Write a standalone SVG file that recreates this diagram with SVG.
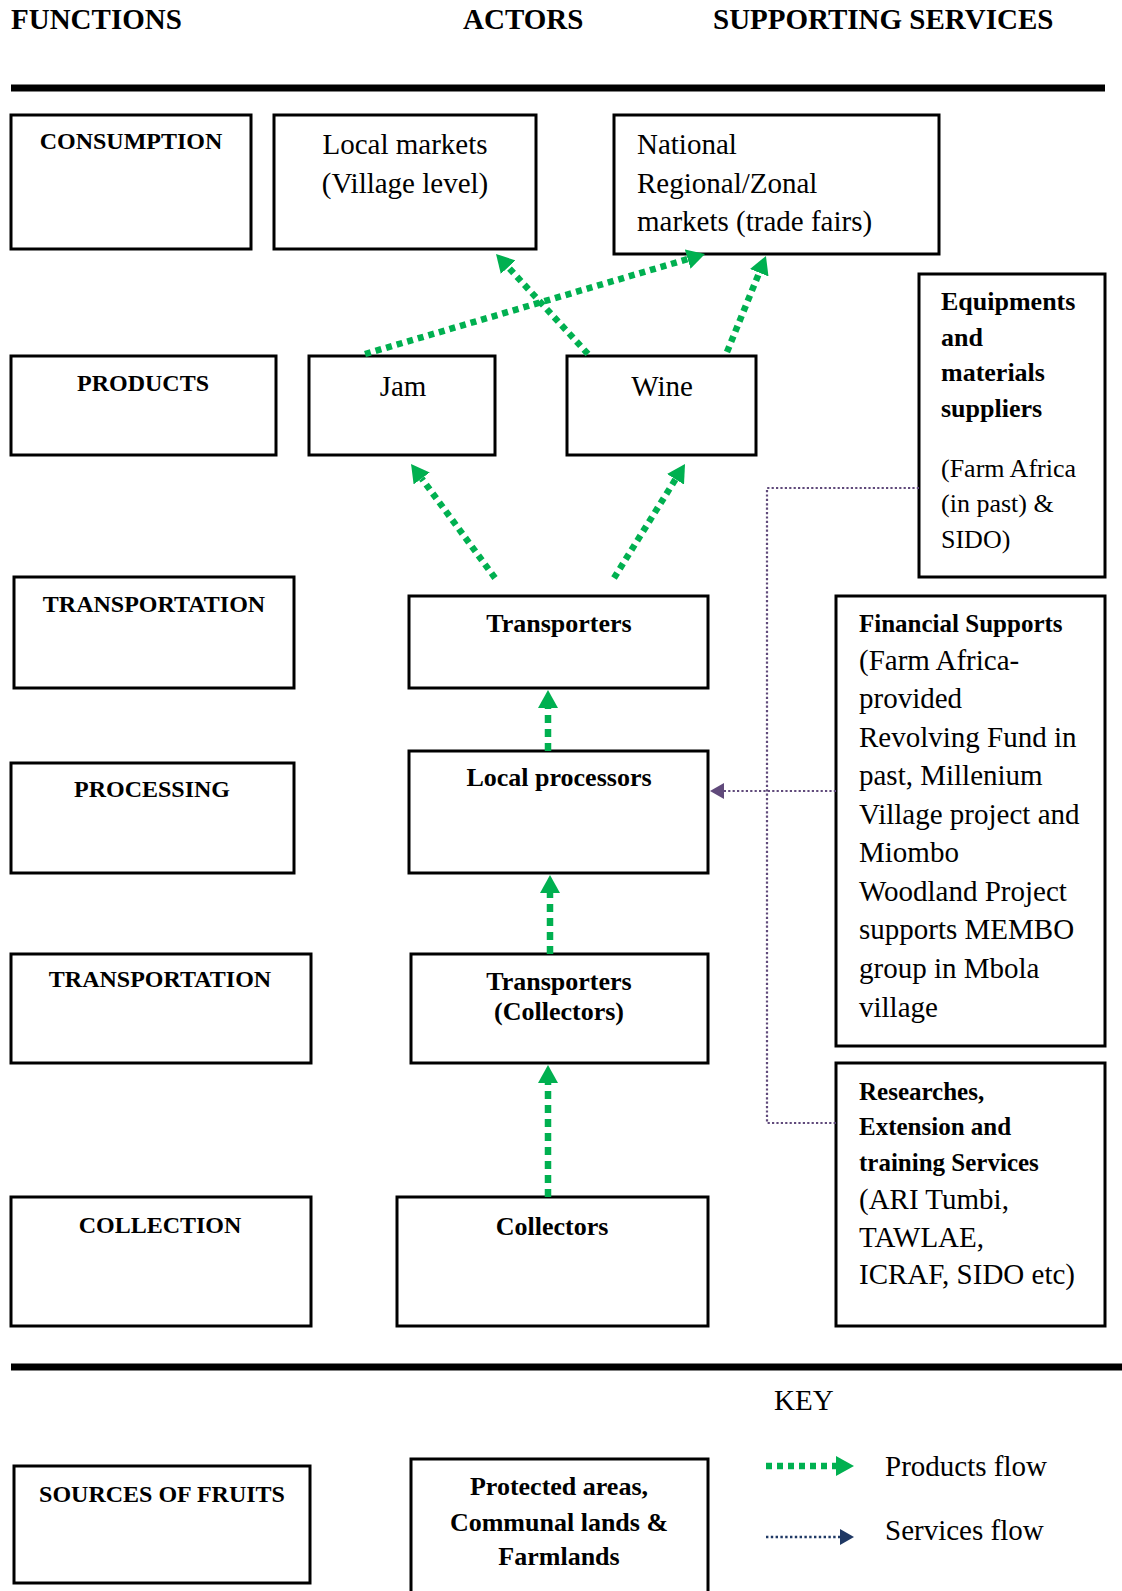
<svg xmlns="http://www.w3.org/2000/svg" width="1122" height="1591" viewBox="0 0 1122 1591">
<style>
.box{fill:#fff;stroke:#000;stroke-width:3}
.hd{font-family:"Liberation Serif","Times New Roman",serif;font-weight:bold;font-size:29px;fill:#000}
.fn{font-family:"Liberation Serif","Times New Roman",serif;font-weight:bold;font-size:24px;fill:#000;text-anchor:middle}
.ab{font-family:"Liberation Serif","Times New Roman",serif;font-weight:bold;font-size:26px;fill:#000;text-anchor:middle}
.rg{font-family:"Liberation Serif","Times New Roman",serif;font-size:29px;fill:#000}
.rgc{font-family:"Liberation Serif","Times New Roman",serif;font-size:29px;fill:#000;text-anchor:middle}
.sb{font-family:"Liberation Serif","Times New Roman",serif;font-weight:bold;font-size:25px;fill:#000}
.eb{font-family:"Liberation Serif","Times New Roman",serif;font-weight:bold;font-size:26px;fill:#000}
.er{font-family:"Liberation Serif","Times New Roman",serif;font-size:26px;fill:#000}
.pf{fill:none;stroke:#00b050;stroke-width:6.5;stroke-dasharray:6 5}
.pv{fill:none;stroke:#00b050;stroke-width:6.5;stroke-dasharray:8 6}
.sf{fill:none;stroke:#604a7b;stroke-width:2.2;stroke-dasharray:2.2 2.2}
.kf{fill:none;stroke:#1f3864;stroke-width:2.4;stroke-dasharray:2.4 2.4}
.rule{stroke:#000;stroke-width:7}
</style>
<defs>
<marker id="ga" markerUnits="userSpaceOnUse" markerWidth="18" markerHeight="20" refX="0" refY="10" orient="auto"><path d="M0,0 L18,10 L0,20 z" fill="#00b050"/></marker>
<marker id="pa" markerUnits="userSpaceOnUse" markerWidth="14" markerHeight="16" refX="0" refY="8" orient="auto"><path d="M0,0 L14,8 L0,16 z" fill="#604a7b"/></marker>
<marker id="na" markerUnits="userSpaceOnUse" markerWidth="14" markerHeight="16" refX="0" refY="8" orient="auto"><path d="M0,0 L14,8 L0,16 z" fill="#1f3864"/></marker>
</defs>
<rect width="1122" height="1591" fill="#fff"/>

<g id="headers">
<text class="hd" x="11" y="29">FUNCTIONS</text>
<text class="hd" x="463" y="29">ACTORS</text>
<text class="hd" x="713" y="29">SUPPORTING SERVICES</text>
<line class="rule" x1="11" y1="88" x2="1105" y2="88"/>
<line class="rule" x1="11" y1="1367" x2="1122" y2="1367"/>
</g>

<g id="consumption"><rect class="box" x="11" y="115" width="240" height="134"/><text class="fn" x="131" y="149">CONSUMPTION</text></g>
<g id="local-markets"><rect class="box" x="274" y="115" width="262" height="134"/><text class="rgc" x="405" y="154">Local markets</text><text class="rgc" x="405" y="193">(Village level)</text></g>
<g id="national-markets"><rect class="box" x="614" y="115" width="325" height="139"/><text class="rg" x="637" y="154">National</text><text class="rg" x="637" y="193">Regional/Zonal</text><text class="rg" x="637" y="231">markets (trade fairs)</text></g>

<g id="products"><rect class="box" x="11" y="356" width="265" height="99"/><text class="fn" x="143" y="391">PRODUCTS</text></g>
<g id="jam"><rect class="box" x="309" y="356" width="186" height="99"/><text class="rgc" x="403" y="396">Jam</text></g>
<g id="wine"><rect class="box" x="567" y="356" width="189" height="99"/><text class="rgc" x="662" y="396">Wine</text></g>

<g id="equipments"><rect class="box" x="919" y="274" width="186" height="303"/>
<text class="eb" x="941" y="310">Equipments</text><text class="eb" x="941" y="346">and</text><text class="eb" x="941" y="381">materials</text><text class="eb" x="941" y="417">suppliers</text>
<text class="er" x="941" y="477">(Farm Africa</text><text class="er" x="941" y="512">(in past) &amp;</text><text class="er" x="941" y="548">SIDO)</text></g>

<g id="transportation-1"><rect class="box" x="14" y="577" width="280" height="111"/><text class="fn" x="154" y="612">TRANSPORTATION</text></g>
<g id="transporters"><rect class="box" x="409" y="596" width="299" height="92"/><text class="ab" x="559" y="632">Transporters</text></g>

<g id="financial"><rect class="box" x="836" y="596" width="269" height="450"/>
<text class="sb" x="859" y="632">Financial Supports</text>
<text class="rg" x="859" y="670">(Farm Africa-</text>
<text class="rg" x="859" y="708">provided</text>
<text class="rg" x="859" y="747">Revolving Fund in</text>
<text class="rg" x="859" y="785">past, Millenium</text>
<text class="rg" x="859" y="824">Village project and</text>
<text class="rg" x="859" y="862">Miombo</text>
<text class="rg" x="859" y="901">Woodland Project</text>
<text class="rg" x="859" y="939">supports MEMBO</text>
<text class="rg" x="859" y="978">group in Mbola</text>
<text class="rg" x="859" y="1017">village</text></g>

<g id="processing"><rect class="box" x="11" y="763" width="283" height="110"/><text class="fn" x="152" y="797">PROCESSING</text></g>
<g id="local-processors"><rect class="box" x="409" y="751" width="299" height="122"/><text class="ab" x="559" y="786">Local processors</text></g>

<g id="transportation-2"><rect class="box" x="11" y="954" width="300" height="109"/><text class="fn" x="160" y="987">TRANSPORTATION</text></g>
<g id="transporters-collectors"><rect class="box" x="411" y="954" width="297" height="109"/><text class="ab" x="559" y="990">Transporters</text><text class="ab" x="559" y="1020">(Collectors)</text></g>

<g id="researches"><rect class="box" x="836" y="1063" width="269" height="263"/>
<text class="sb" x="859" y="1100">Researches,</text>
<text class="sb" x="859" y="1135">Extension and</text>
<text class="sb" x="859" y="1171">training Services</text>
<text class="rg" x="859" y="1209">(ARI Tumbi,</text>
<text class="rg" x="859" y="1247">TAWLAE,</text>
<text class="rg" x="859" y="1284">ICRAF, SIDO etc)</text></g>

<g id="collection"><rect class="box" x="11" y="1197" width="300" height="129"/><text class="fn" x="160" y="1233">COLLECTION</text></g>
<g id="collectors"><rect class="box" x="397" y="1197" width="311" height="129"/><text class="ab" x="552" y="1235">Collectors</text></g>

<g id="sources"><rect class="box" x="14" y="1466" width="296" height="117"/><text class="fn" x="162" y="1502">SOURCES OF FRUITS</text></g>
<g id="protected-areas"><rect class="box" x="411" y="1459" width="297" height="140"/><text class="ab" x="559" y="1495">Protected areas,</text><text class="ab" x="559" y="1531">Communal lands &amp;</text><text class="ab" x="559" y="1565">Farmlands</text></g>

<g id="connectors">
<line class="pf" x1="588" y1="354" x2="508.2" y2="267.2" marker-end="url(#ga)"/>
<line class="pf" x1="365" y1="354" x2="687.7" y2="259.1" marker-end="url(#ga)"/>
<line class="pf" x1="727" y1="352" x2="759.2" y2="272.7" marker-end="url(#ga)"/>
<line class="pf" x1="495" y1="578" x2="421.7" y2="478.5" marker-end="url(#ga)"/>
<line class="pf" x1="614" y1="578" x2="675.5" y2="479.3" marker-end="url(#ga)"/>
<line class="pv" x1="548" y1="751" x2="548" y2="708" marker-end="url(#ga)"/>
<line class="pv" x1="550" y1="954" x2="550" y2="893" marker-end="url(#ga)"/>
<line class="pv" x1="548" y1="1197" x2="548" y2="1083" marker-end="url(#ga)"/>
<path class="sf" d="M919,488 H767 V1123 H836"/>
<line class="sf" x1="836" y1="791" x2="724" y2="791" marker-end="url(#pa)"/>
</g>

<g id="key">
<text class="rg" x="774" y="1410">KEY</text>
<line class="pf" x1="766" y1="1466" x2="836" y2="1466" marker-end="url(#ga)"/>
<text class="rg" x="885" y="1476">Products flow</text>
<line class="kf" x1="766" y1="1537" x2="840" y2="1537" marker-end="url(#na)"/>
<text class="rg" x="885" y="1540">Services flow</text>
</g>
</svg>
